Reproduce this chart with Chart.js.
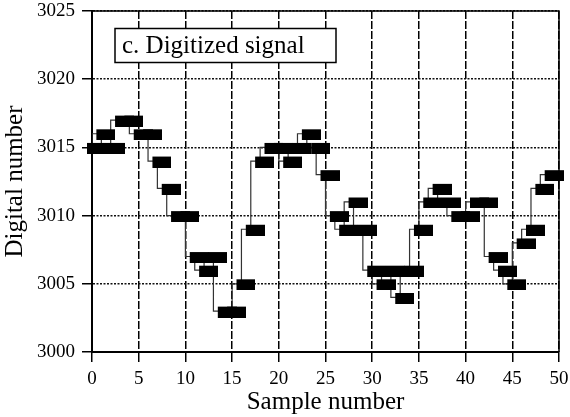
<!DOCTYPE html>
<html lang="en">

<head>
    <meta charset="UTF-8">
    <meta name="viewport" content="width=device-width, initial-scale=1.0">
    <title>c. Digitized signal</title>
    <script src="https://cdn.jsdelivr.net/npm/chart.js"></script>
    <style>
        html, body { margin: 0; padding: 0; background: #fff; }
        #wrap { width: 570px; height: 417px; }
    </style>
</head>

<body>
    <div id="wrap">
        <canvas id="digitized"></canvas>
    </div>
    <script>

        // sample index and quantized value (digital number)
        const sampleNumbers = [0, 1, 2, 3, 4, 5, 6, 7, 8, 9,
            10, 11, 12, 13, 14, 15, 16, 17, 18, 19,
            20, 21, 22, 23, 24, 25, 26, 27, 28, 29,
            30, 31, 32, 33, 34, 35, 36, 37, 38, 39,
            40, 41, 42, 43, 44, 45, 46, 47, 48, 49];
        const digitalNumbers = [3015, 3016, 3015, 3017, 3017, 3016, 3016, 3014, 3012, 3010,
            3010, 3007, 3006, 3007, 3003, 3003, 3005, 3009, 3014, 3015,
            3015, 3014, 3015, 3016, 3015, 3013, 3010, 3009, 3011, 3009,
            3006, 3005, 3006, 3004, 3006, 3009, 3011, 3012, 3011, 3010,
            3010, 3011, 3011, 3007, 3006, 3005, 3008, 3009, 3012, 3013];
        const xTicks = [0, 5, 10, 15, 20, 25, 30, 35, 40, 45, 50];
        const yTicks = [3000, 3005, 3010, 3015, 3020, 3025];

        const points = sampleNumbers.map((s, i) => ({ x: s, y: digitalNumbers[i] }));

        // each sample is drawn as a heavy bar sitting just right of its sample position
        const box = document.createElement('canvas');
        box.width = 28;
        box.height = 13;
        const bctx = box.getContext('2d');
        bctx.fillStyle = '#000';
        bctx.fillRect(9, 2, 19, 11);

        const serif = '"Liberation Serif", "Times New Roman", serif';

        // frame + label box inside the plot
        const framePlugin = {
            id: 'frame',
            afterDraw(chart) {
                const { ctx, chartArea: a } = chart;
                ctx.save();
                ctx.strokeStyle = '#000';
                ctx.lineWidth = 1.5;
                ctx.beginPath();
                ctx.moveTo(a.left, a.top);
                ctx.lineTo(a.right, a.top);
                ctx.lineTo(a.right, a.bottom);
                ctx.stroke();

                ctx.fillStyle = '#fff';
                ctx.fillRect(115, 28.5, 221, 34);
                ctx.lineWidth = 1.5;
                ctx.strokeRect(115, 28.5, 221, 34);
                ctx.fillStyle = '#000';
                ctx.font = '25px ' + serif;
                ctx.textBaseline = 'middle';
                ctx.fillText('c. Digitized signal', 122, 46);
                ctx.restore();
            }
        };

        const data = {
            datasets: [{
                label: 'samples',
                data: points,
                showLine: false,
                pointStyle: box,
                pointRadius: 10,
                pointHoverRadius: 10,
                clip: false,
                order: 0
            }, {
                label: 'steps',
                data: points,
                stepped: 'after',
                borderColor: '#333',
                borderWidth: 1.2,
                pointRadius: 0,
                fill: false,
                order: 1
            }]
        };

        const config = {
            type: 'line',
            data: data,
            options: {
                responsive: false,
                animation: false,
                events: [],
                layout: { padding: { top: 10, right: 11, left: 0, bottom: 0 } },
                plugins: {
                    legend: { display: false },
                    tooltip: { enabled: false }
                },
                scales: {
                    x: {
                        type: 'linear',
                        min: 0,
                        max: 50,
                        afterBuildTicks: (scale) => { scale.ticks = xTicks.map(v => ({ value: v })); },
                        afterFit: (scale) => {
                            scale.height = 65;
                            scale.paddingLeft = 0;
                            scale.paddingRight = 0;
                        },
                        ticks: {
                            color: '#000',
                            padding: 6,
                            maxRotation: 0,
                            font: { family: serif, size: 19 }
                        },
                        grid: {
                            color: '#000',
                            lineWidth: 1.5,
                            tickColor: '#000',
                            tickLength: 10,
                            tickWidth: 1.5
                        },
                        border: { color: '#000', width: 2, dash: [8, 2] },
                        title: {
                            display: true,
                            text: 'Sample number',
                            color: '#000',
                            padding: 0,
                            font: { family: serif, size: 25 }
                        }
                    },
                    y: {
                        min: 3000,
                        max: 3025,
                        afterBuildTicks: (scale) => { scale.ticks = yTicks.map(v => ({ value: v })); },
                        afterFit: (scale) => {
                            scale.width = 92;
                            scale.paddingTop = 0;
                            scale.paddingBottom = 0;
                        },
                        ticks: {
                            color: '#000',
                            padding: 7,
                            font: { family: serif, size: 19 },
                            callback: (v) => String(v)
                        },
                        grid: {
                            color: '#111',
                            lineWidth: 1.5,
                            tickColor: '#000',
                            tickLength: 10,
                            tickWidth: 1.5
                        },
                        border: { color: '#000', width: 2, dash: [2, 1.5] },
                        title: {
                            display: true,
                            text: 'Digital number',
                            color: '#000',
                            padding: 0,
                            font: { family: serif, size: 25 }
                        }
                    }
                }
            },
            plugins: [framePlugin]
        };

        const canvas = document.querySelector('#digitized');
        canvas.width = 570;
        canvas.height = 417;
        const myChart = new Chart(canvas.getContext('2d'), config);

    </script>
</body>

</html>
